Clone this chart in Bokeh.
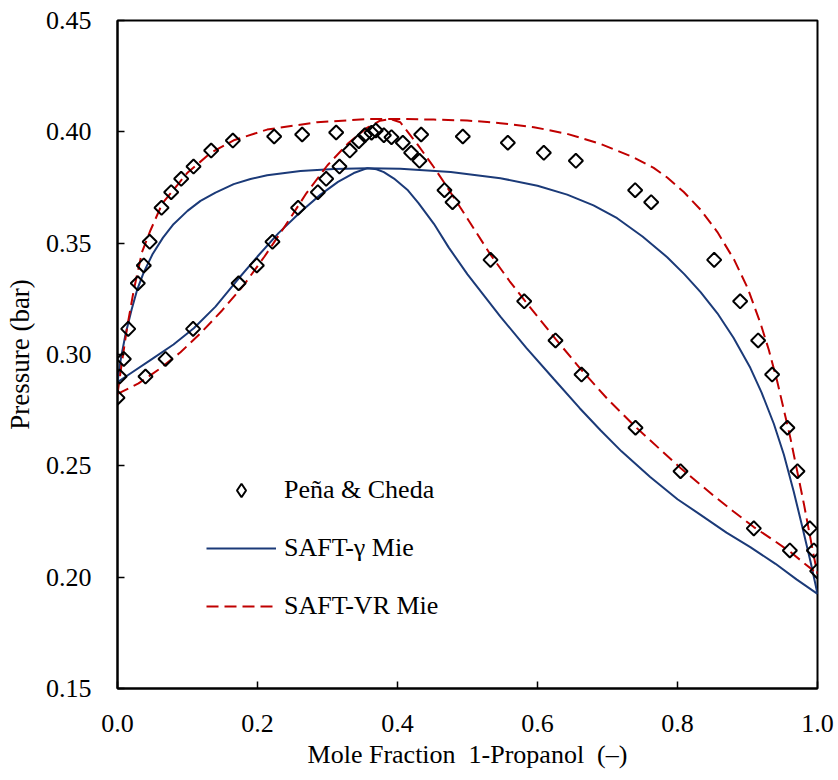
from bokeh.plotting import figure
from bokeh.models import Range1d, FixedTicker, NumeralTickFormatter, Legend, LegendItem
from bokeh.embed import file_html
from bokeh.resources import INLINE
import math

# ---- Experimental data (Peña & Cheda) ----
exp_x_liquid = [0.0, 0.040, 0.0686, 0.108, 0.173, 0.199, 0.2214, 0.258, 0.2862, 0.2981,
                0.3171, 0.3319, 0.3448, 0.3533, 0.3629, 0.369, 0.3805, 0.3914, 0.4076,
                0.4195, 0.4314, 0.4671, 0.4786, 0.5329, 0.581, 0.6257, 0.6629, 0.740,
                0.8043, 0.909, 0.9605, 0.9995]
exp_p_liquid = [0.2806, 0.2901, 0.298, 0.3115, 0.332, 0.340, 0.3506, 0.3659, 0.3729, 0.3789,
                0.3844, 0.3916, 0.3958, 0.3985, 0.3996, 0.4006, 0.3985, 0.3976, 0.3951,
                0.3906, 0.387, 0.3738, 0.3684, 0.3425, 0.3239, 0.3063, 0.291, 0.2671,
                0.2476, 0.2219, 0.212, 0.2027]
exp_y_vapor = [0.003, 0.009, 0.0153, 0.029, 0.0376, 0.046, 0.0629, 0.0767, 0.091, 0.1086,
               0.1338, 0.1648, 0.2238, 0.2638, 0.3124, 0.4338, 0.4933, 0.5576, 0.609,
               0.6548, 0.7395, 0.7624, 0.8524, 0.8895, 0.9152, 0.9352, 0.957, 0.9714,
               0.989, 0.9948]
exp_p_vapor = [0.2901, 0.298, 0.3115, 0.332, 0.340, 0.3506, 0.3659, 0.3729, 0.3789, 0.3844,
               0.3916, 0.3961, 0.3979, 0.3988, 0.3997, 0.3988, 0.3979, 0.3951, 0.3906,
               0.387, 0.3738, 0.3684, 0.3425, 0.3239, 0.3063, 0.291, 0.2671, 0.2476,
               0.2219, 0.212]

# ---- SAFT-gamma Mie (blue, solid) ----
gm_bub_x = [0.0, 0.02, 0.047, 0.08, 0.109, 0.14, 0.17, 0.20, 0.23, 0.2614, 0.29, 0.315,
            0.3376, 0.357, 0.37, 0.3805, 0.395, 0.414, 0.43, 0.452, 0.4733, 0.50, 0.547,
            0.584, 0.6233, 0.66, 0.69, 0.72, 0.761, 0.80, 0.833, 0.87, 0.904, 0.94, 0.97, 1.0]
gm_bub_p = [0.2876, 0.2918, 0.2975, 0.3045, 0.3118, 0.3215, 0.3330, 0.3440, 0.3545, 0.3640,
            0.3718, 0.3775, 0.3815, 0.3837, 0.3832, 0.3819, 0.3790, 0.3740, 0.3680, 0.3587,
            0.3480, 0.3360, 0.3170, 0.3030, 0.2890, 0.2760, 0.2660, 0.2565, 0.2450, 0.2350,
            0.2280, 0.2200, 0.2135, 0.2060, 0.1990, 0.1925]
gm_dew_x = [0.0, 0.005, 0.0114, 0.02, 0.028, 0.0376, 0.05, 0.065, 0.08, 0.10, 0.1186, 0.14,
            0.166, 0.19, 0.2138, 0.2614, 0.309, 0.357, 0.404, 0.476, 0.547, 0.60, 0.6424,
            0.68, 0.7138, 0.75, 0.7853, 0.81, 0.833, 0.857, 0.88, 0.904, 0.92, 0.9376, 0.952,
            0.966, 0.978, 0.99, 1.0]
gm_dew_p = [0.2876, 0.2985, 0.3090, 0.3200, 0.3290, 0.3370, 0.3450, 0.3525, 0.3585, 0.3645,
            0.3690, 0.3727, 0.3765, 0.3788, 0.3805, 0.3824, 0.3833, 0.3837, 0.3834, 0.3820,
            0.3792, 0.3758, 0.3718, 0.3670, 0.3612, 0.3530, 0.3437, 0.3360, 0.3280, 0.3185,
            0.3075, 0.2940, 0.2830, 0.2689, 0.2550, 0.2385, 0.2230, 0.2070, 0.1925]

# ---- SAFT-VR Mie (red, dashed) ----
vr_bub_x = [0.0, 0.03, 0.06, 0.09, 0.12, 0.15, 0.18, 0.21, 0.24, 0.27, 0.30, 0.33, 0.355,
            0.375, 0.39, 0.404, 0.428, 0.452, 0.4671, 0.50, 0.5329, 0.56, 0.581, 0.6257,
            0.6629, 0.70, 0.74, 0.78, 0.8043, 0.85, 0.88, 0.909, 0.94, 0.9605, 0.98, 1.0]
vr_bub_p = [0.2823, 0.2870, 0.2935, 0.3010, 0.3100, 0.3200, 0.3310, 0.3440, 0.3580, 0.3725,
            0.3850, 0.3950, 0.4015, 0.4050, 0.4058, 0.4043, 0.3946, 0.3841, 0.3770, 0.3610,
            0.3448, 0.3330, 0.3245, 0.3070, 0.2930, 0.2800, 0.2675, 0.2560, 0.2490, 0.2370,
            0.2295, 0.2225, 0.2160, 0.2115, 0.2065, 0.2015]
vr_dew_x = [0.0, 0.0067, 0.0138, 0.0233, 0.035, 0.047, 0.0638, 0.0852, 0.0995, 0.133, 0.166,
            0.2138, 0.285, 0.357, 0.404, 0.452, 0.4995, 0.547, 0.5948, 0.6424, 0.69, 0.7376,
            0.766, 0.7853, 0.809, 0.833, 0.857, 0.881, 0.90, 0.9186, 0.9305, 0.9424, 0.961,
            0.9805, 0.995, 1.0]
vr_dew_p = [0.2823, 0.2973, 0.3123, 0.3290, 0.3460, 0.3557, 0.3677, 0.3760, 0.3815, 0.3905,
            0.3962, 0.4010, 0.4043, 0.4057, 0.4058, 0.4055, 0.4051, 0.4039, 0.4021, 0.3991,
            0.3946, 0.3885, 0.3838, 0.3795, 0.3730, 0.3650, 0.3550, 0.3425, 0.3300, 0.3140,
            0.3020, 0.2880, 0.2629, 0.2330, 0.2090, 0.2015]

x_ticks = [0.0, 0.2, 0.4, 0.6, 0.8, 1.0]
y_ticks = [0.15, 0.20, 0.25, 0.30, 0.35, 0.40, 0.45]

BLUE = "#1b3a78"
RED = "#c00000"
FONT = "Liberation Serif"

p = figure(width=836, height=778, output_backend="svg", toolbar_location=None,
           x_range=Range1d(0, 1), y_range=Range1d(0.15, 0.45),
           min_border_left=117, min_border_right=19, min_border_top=20, min_border_bottom=90)
p.background_fill_color = "white"
p.border_fill_color = "white"
p.outline_line_color = "black"
p.outline_line_width = 2
p.xgrid.visible = False
p.ygrid.visible = False

for ax, ticks, fmt in ((p.xaxis[0], x_ticks, "0.0"), (p.yaxis[0], y_ticks, "0.00")):
    ax.ticker = FixedTicker(ticks=ticks)
    ax.formatter = NumeralTickFormatter(format=fmt)
    ax.major_tick_in = 7
    ax.major_tick_out = 0
    ax.minor_tick_in = 0
    ax.minor_tick_out = 0
    ax.major_tick_line_width = 1.5
    ax.axis_line_width = 2
    ax.axis_line_color = "black"
    ax.major_label_text_font = FONT
    ax.major_label_text_font_size = "26px"
    ax.major_label_text_color = "black"
    ax.axis_label_text_font = FONT
    ax.axis_label_text_font_style = "normal"
    ax.axis_label_text_color = "black"

p.xaxis.axis_label = "Mole Fraction\u00a0\u00a01-Propanol\u00a0\u00a0(\u2013)"
p.yaxis.axis_label = "Pressure\u00a0(bar)"
p.xaxis.axis_label_text_font_size = "26px"
p.yaxis.axis_label_text_font_size = "27px"
p.xaxis.major_label_standoff = 26
p.yaxis.major_label_standoff = 26
p.xaxis.axis_label_standoff = 5
p.yaxis.axis_label_standoff = 8

r_gm = p.line(gm_bub_x, gm_bub_p, line_color=BLUE, line_width=2)
p.line(gm_dew_x, gm_dew_p, line_color=BLUE, line_width=2)
r_vr = p.line(vr_bub_x, vr_bub_p, line_color=RED, line_width=2, line_dash="12 6")
p.line(vr_dew_x, vr_dew_p, line_color=RED, line_width=2, line_dash="12 6")

p.scatter(exp_x_liquid, exp_p_liquid, marker="square", size=10, angle=math.pi / 4,
          line_color="black", line_width=2, fill_alpha=0)
p.scatter(exp_y_vapor, exp_p_vapor, marker="square", size=10, angle=math.pi / 4,
          line_color="black", line_width=2, fill_alpha=0)
# legend-only proxy (no drawable position) that supplies the diamond key symbol
r_exp_key = p.scatter(x=[math.nan], y=[math.nan], marker="diamond", size=14,
                      line_color="black", line_width=2, fill_alpha=0)

legend = Legend(items=[LegendItem(label="Pe\u00f1a & Cheda", renderers=[r_exp_key]),
                       LegendItem(label="SAFT-\u03b3 Mie", renderers=[r_gm]),
                       LegendItem(label="SAFT-VR Mie", renderers=[r_vr])],
                location=(89, 65), orientation="vertical")
legend.glyph_width = 70
legend.glyph_height = 34
legend.label_height = 34
legend.spacing = 24
legend.padding = 0
legend.margin = 0
legend.label_standoff = 8
legend.border_line_alpha = 0
legend.background_fill_alpha = 0
legend.label_text_font = FONT
legend.label_text_font_size = "26px"
legend.label_text_color = "black"
p.add_layout(legend, "center")

open("out.html", "w").write(file_html(p, INLINE))
